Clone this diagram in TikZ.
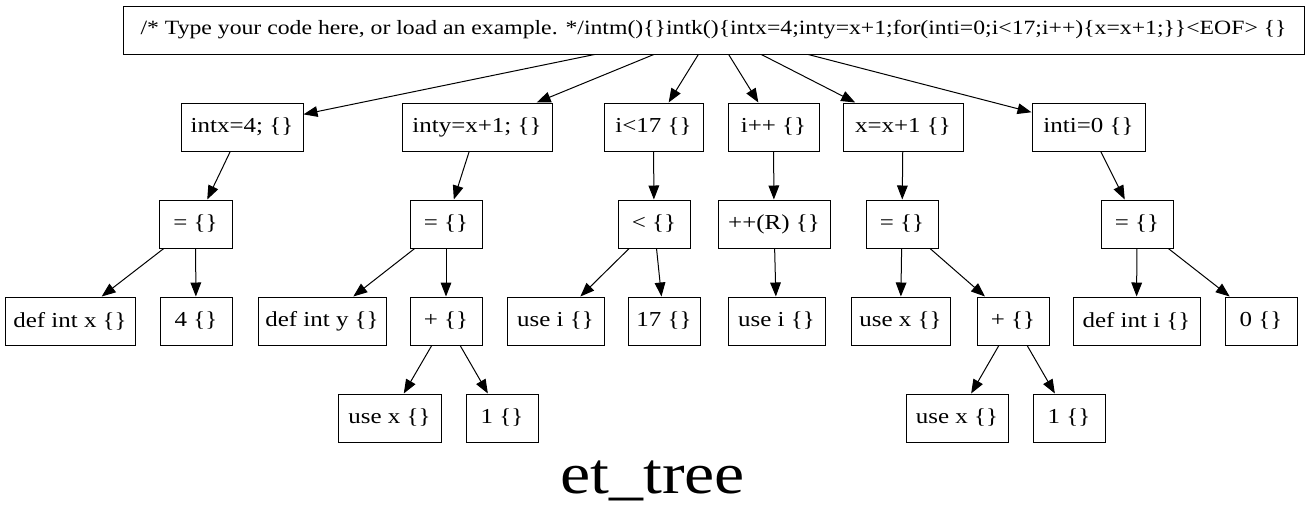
\documentclass[tikz,border=0pt]{standalone}
\usepackage{fontspec}
\setmainfont[FakeStretch=1.17]{Liberation Serif}
\usetikzlibrary{arrows.meta}
\usetikzlibrary{positioning}

\tikzset{
   box/.style={draw, rectangle, line width=0.75pt, inner sep=0pt,
      minimum height=36pt, font=\fontsize{16}{18}\selectfont},
   wd/.style={minimum width=#1*0.75pt},
   edge/.style={line width=0.75pt,
      -{Triangle[length=10.5pt,width=8pt]}},
}

\begin{document}
\begin{tikzpicture}[x=0.75pt,y=-0.75pt]
   \useasboundingbox (0,0) rectangle (1309,519);

   % whole program
   \node[box, wd=1181, font=\fontsize{15.2}{18}\selectfont] (root) at (713.5,30)
   {/* Type your code here, or load an example. */intm()\{\}intk()\{intx=4;inty=x+1;for(inti=0;i<17;i++)\{x=x+1;\}\}<EOF> \{\}};

   % statements
   \node[box, wd=122] (s1) at (242,127)   {intx=4; \{\}};
   \node[box, wd=150] (s2) at (477,127)   {inty=x+1; \{\}};
   \node[box, wd=99]  (s3) at (653.5,127) {i<17 \{\}};
   \node[box, wd=91]  (s4) at (773.5,127) {i++ \{\}};
   \node[box, wd=120] (s5) at (903,127)   {x=x+1 \{\}};
   \node[box, wd=113] (s6) at (1088.5,127){inti=0 \{\}};

   % operators
   \node[box, wd=73]  (o1) at (195.5,224) {= \{\}};
   \node[box, wd=72]  (o2) at (446,224)   {= \{\}};
   \node[box, wd=72]  (o3) at (654,224)   {< \{\}};
   \node[box, wd=112] (o4) at (774,224)   {++(R) \{\}};
   \node[box, wd=72]  (o5) at (902,224)   {= \{\}};
   \node[box, wd=72]  (o6) at (1137,224)  {= \{\}};

   % operands
   \node[box, wd=130] (defx)  at (70,321)     {def int x \{\}};
   \node[box, wd=72]  (four)  at (196,321)    {4 \{\}};
   \node[box, wd=128] (defy)  at (322,321)    {def int y \{\}};
   \node[box, wd=72]  (plusa) at (446,321)    {+ \{\}};
   \node[box, wd=97]  (usei)  at (555.5,321)  {use i \{\}};
   \node[box, wd=72]  (svtn)  at (664,321)    {17 \{\}};
   \node[box, wd=97]  (useib) at (776.5,321)  {use i \{\}};
   \node[box, wd=99]  (usex)  at (900.5,321)  {use x \{\}};
   \node[box, wd=72]  (plusb) at (1013,321)   {+ \{\}};
   \node[box, wd=127] (defi)  at (1136.5,321) {def int i \{\}};
   \node[box, wd=72]  (zero)  at (1261,321)   {0 \{\}};

   % x+1 leaves
   \node[box, wd=103] (usexa) at (389.5,418) {use x \{\}};
   \node[box, wd=72]  (onea)  at (502,418)   {1 \{\}};
   \node[box, wd=102] (usexb) at (957,418)   {use x \{\}};
   \node[box, wd=72]  (oneb)  at (1069,418)  {1 \{\}};

   % title
   \node[anchor=base, inner sep=0pt, font=\fontsize{43.5}{44}\selectfont]
      (title) at (652.5,493) {et\_tree};

   % edges
   \draw[edge] (root) -- (s1);
   \draw[edge] (root) -- (s2);
   \draw[edge] (root) -- (s3);
   \draw[edge] (root) -- (s4);
   \draw[edge] (root) -- (s5);
   \draw[edge] (root) -- (s6);

   \draw[edge] (s1) -- (o1);
   \draw[edge] (o1) -- (defx);
   \draw[edge] (o1) -- (four);

   \draw[edge] (s2) -- (o2);
   \draw[edge] (o2) -- (defy);
   \draw[edge] (o2) -- (plusa);
   \draw[edge] (plusa) -- (usexa);
   \draw[edge] (plusa) -- (onea);

   \draw[edge] (s3) -- (o3);
   \draw[edge] (o3) -- (usei);
   \draw[edge] (o3) -- (svtn);

   \draw[edge] (s4) -- (o4);
   \draw[edge] (o4) -- (useib);

   \draw[edge] (s5) -- (o5);
   \draw[edge] (o5) -- (usex);
   \draw[edge] (o5) -- (plusb);
   \draw[edge] (plusb) -- (usexb);
   \draw[edge] (plusb) -- (oneb);

   \draw[edge] (s6) -- (o6);
   \draw[edge] (o6) -- (defi);
   \draw[edge] (o6) -- (zero);
\end{tikzpicture}
\end{document}
